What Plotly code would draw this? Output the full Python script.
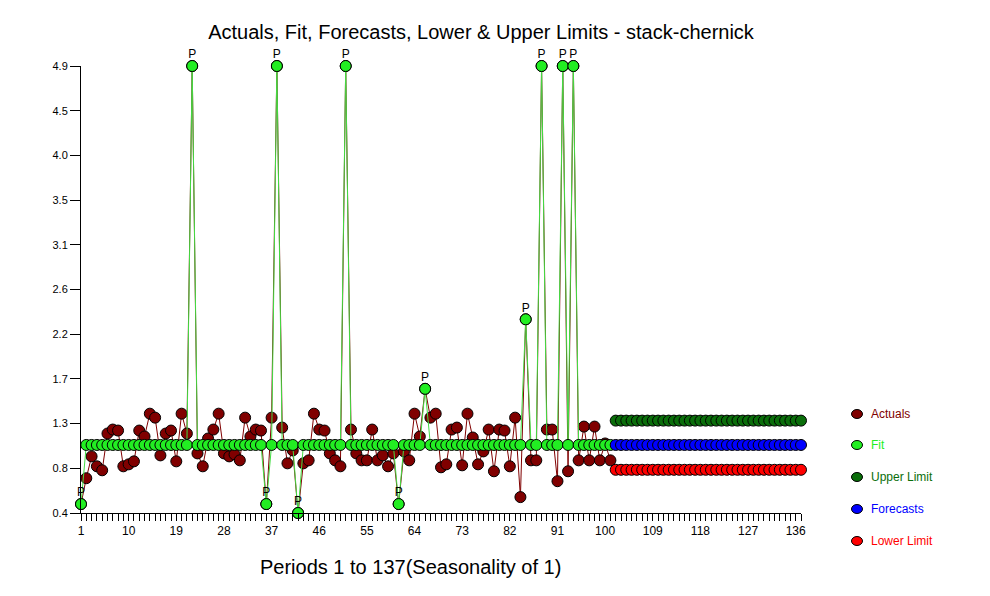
import plotly.graph_objects as go

# ---------------- data ----------------
periods_hist = list(range(1, 102))
periods_fc = list(range(102, 138))

actuals = [0.49, 0.75, 0.97, 0.87, 0.83, 1.20, 1.24, 1.23, 0.87, 0.89,
           0.92, 1.23, 1.17, 1.40, 1.36, 0.98, 1.20, 1.23, 0.92, 1.40,
           1.20, 4.90, 1.00, 0.87, 1.15, 1.24, 1.40, 1.00, 0.97, 0.99,
           0.93, 1.36, 1.17, 1.24, 1.23, 0.49, 1.36, 4.90, 1.26, 0.90,
           1.03, 0.40, 0.90, 0.93, 1.40, 1.24, 1.23, 1.00, 0.93, 0.87,
           4.90, 1.24, 1.00, 0.93, 0.93, 1.24, 0.93, 0.98, 0.87, 1.00,
           0.49, 1.02, 0.93, 1.40, 1.17, 1.65, 1.36, 1.40, 0.86, 0.89,
           1.24, 1.26, 0.88, 1.40, 1.16, 0.89, 1.02, 1.24, 0.82, 1.24,
           1.23, 0.87, 1.36, 0.56, 2.35, 0.93, 0.93, 4.90, 1.24, 1.24,
           0.72, 4.90, 0.82, 4.90, 0.93, 1.27, 0.93, 1.27, 0.93, 1.10,
           0.93]

fit = [0.49, 1.085, 1.085, 1.085, 1.085, 1.085, 1.085, 1.085, 1.085, 1.085,
       1.085, 1.085, 1.085, 1.085, 1.085, 1.085, 1.085, 1.085, 1.085, 1.085,
       1.085, 4.90, 1.085, 1.085, 1.085, 1.085, 1.085, 1.085, 1.085, 1.085,
       1.085, 1.085, 1.085, 1.085, 1.085, 0.49, 1.085, 4.90, 1.085, 1.085,
       1.085, 0.40, 1.085, 1.085, 1.085, 1.085, 1.085, 1.085, 1.085, 1.085,
       4.90, 1.085, 1.085, 1.085, 1.085, 1.085, 1.085, 1.085, 1.085, 1.085,
       0.49, 1.085, 1.085, 1.085, 1.085, 1.65, 1.085, 1.085, 1.085, 1.085,
       1.085, 1.085, 1.085, 1.085, 1.085, 1.085, 1.085, 1.085, 1.085, 1.085,
       1.085, 1.085, 1.085, 1.085, 2.35, 1.085, 1.085, 4.90, 1.085, 1.085,
       1.085, 4.90, 1.085, 4.90, 1.085, 1.085, 1.085, 1.085, 1.085, 1.085,
       1.085]

pulse_periods = [1, 22, 36, 38, 42, 51, 61, 66, 85, 88, 92, 94]

forecasts = [1.085] * 36
upper_limit = [1.33] * 36
lower_limit = [0.835] * 36

y_tickvals = [0.4, 0.85, 1.3, 1.75, 2.2, 2.65, 3.1, 3.55, 4.0, 4.45, 4.9]
y_ticktext = ["0.4", "0.8", "1.3", "1.7", "2.2", "2.6", "3.1", "3.5", "4.0", "4.5", "4.9"]
x_label_every = 9

legend_names = ["Actuals", "Fit", "Upper Limit", "Forecasts", "Lower Limit"]

# ---------------- styling ----------------
C_ACT = "#800000"
C_FIT = "#22ee22"
C_FIT_LINE = "#44dd44"
C_UP = "#0a6e0a"
C_FC = "#0000ff"
C_LO = "#ff0000"
legend_colors = [C_ACT, "#22ee22", C_UP, C_FC, C_LO]
legend_text_colors = [C_ACT, "#22ee22", "#0a6e0a", "#0000ff", "#ff0000"]

FONT = "Liberation Sans, Arial, sans-serif"
MS = 11

fig = go.Figure()

fig.add_trace(go.Scatter(
    x=periods_hist, y=actuals, mode="lines+markers",
    line=dict(color=C_ACT, width=1),
    marker=dict(color=C_ACT, size=MS, line=dict(color="black", width=1)),
    cliponaxis=False, showlegend=False))

fig.add_trace(go.Scatter(
    x=periods_hist, y=fit, mode="lines+markers",
    line=dict(color=C_FIT_LINE, width=1),
    marker=dict(color=C_FIT, size=MS, line=dict(color="black", width=1)),
    cliponaxis=False, showlegend=False))

fig.add_trace(go.Scatter(
    x=periods_fc, y=upper_limit, mode="lines+markers",
    line=dict(color=C_UP, width=1),
    marker=dict(color=C_UP, size=MS, line=dict(color="black", width=1)),
    cliponaxis=False, showlegend=False))

fig.add_trace(go.Scatter(
    x=periods_fc, y=forecasts, mode="lines+markers",
    line=dict(color=C_FC, width=1),
    marker=dict(color=C_FC, size=MS, line=dict(color="black", width=1)),
    cliponaxis=False, showlegend=False))

fig.add_trace(go.Scatter(
    x=periods_fc, y=lower_limit, mode="lines+markers",
    line=dict(color=C_LO, width=1),
    marker=dict(color=C_LO, size=MS, line=dict(color="black", width=1)),
    cliponaxis=False, showlegend=False))

# "P" labels above pulse points (invisible marker used as offset)
fig.add_trace(go.Scatter(
    x=pulse_periods, y=[fit[p - 1] for p in pulse_periods],
    mode="markers+text", text=["P"] * len(pulse_periods), textposition="top center",
    marker=dict(size=6, color="rgba(0,0,0,0)", line=dict(width=0)),
    textfont=dict(family=FONT, size=12, color="black"),
    cliponaxis=False, showlegend=False, hoverinfo="skip"))

# ---------------- layout ----------------
L, R, T, B = 81, 801, 66, 513
W, H = 990, 596

x_tickvals = list(range(1, 138))
x_ticktext = [str(p) if (p - 1) % x_label_every == 0 else "" for p in x_tickvals]

fig.update_layout(
    width=W, height=H,
    margin=dict(l=L, r=W - R, t=T, b=H - B, pad=0),
    paper_bgcolor="white", plot_bgcolor="white",
    font=dict(family=FONT, size=12, color="black"),
    showlegend=False,
    title=dict(text="Actuals, Fit, Forecasts, Lower & Upper Limits - stack-chernick",
               x=481 / W, xanchor="center", y=1 - 32 / H, yanchor="middle",
               font=dict(family=FONT, size=20, color="black")),
    xaxis=dict(range=[1, 137], tickmode="array", tickvals=x_tickvals, ticktext=x_ticktext,
               ticks="outside", ticklen=7, tickwidth=1, tickcolor="black",
               showline=True, linecolor="black", linewidth=1, showgrid=False,
               zeroline=False, tickfont=dict(family=FONT, size=12, color="black")),
    yaxis=dict(range=[0.4, 4.9], tickmode="array", tickvals=y_tickvals, ticktext=y_ticktext,
               ticks="outside", ticklen=10, tickwidth=1, tickcolor="black",
               showline=True, linecolor="black", linewidth=1, showgrid=False,
               zeroline=False, tickfont=dict(family=FONT, size=11, color="black")),
)

pw = R - L
ph = B - T

def px_to_paper(xp, yp):
    return (xp - L) / pw, (B - yp) / ph

# x axis title
ax, ay = px_to_paper(410, 567)
fig.add_annotation(text="Periods 1 to 137(Seasonality of 1)", x=ax, y=ay,
                   xref="paper", yref="paper", xanchor="center", yanchor="middle",
                   showarrow=False, font=dict(family=FONT, size=20, color="black"))

# manual legend
legend_y = [414, 445, 477, 509, 541]
for name, col, tcol, ly in zip(legend_names, legend_colors, legend_text_colors, legend_y):
    dx, dy = px_to_paper(857, ly)
    fig.add_shape(type="circle", xref="paper", yref="paper",
                  xsizemode="pixel", ysizemode="pixel", xanchor=dx, yanchor=dy,
                  x0=-5.5, x1=5.5, y0=-4.5, y1=4.5,
                  fillcolor=col, line=dict(color="black", width=1))
    tx, ty = px_to_paper(869, ly)
    fig.add_annotation(text=name, x=tx, y=ty, xref="paper", yref="paper",
                       xanchor="left", yanchor="middle", showarrow=False,
                       font=dict(family=FONT, size=12, color=tcol))

fig.write_html("out.html")
